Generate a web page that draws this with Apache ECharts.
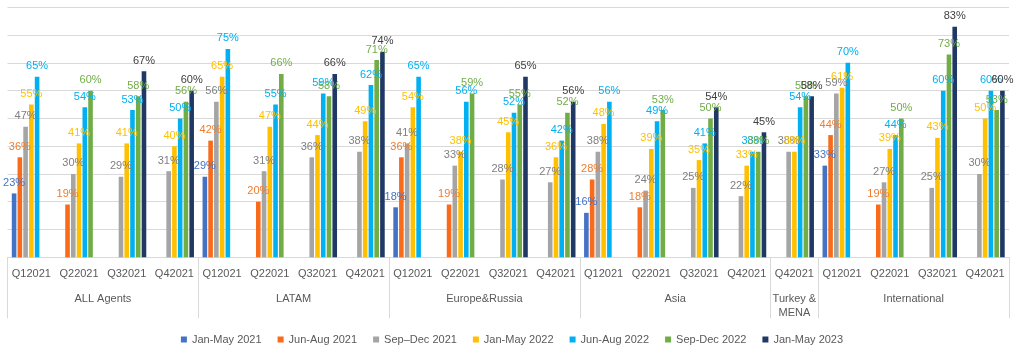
<!DOCTYPE html>
<html>
<head>
<meta charset="utf-8">
<script src="https://cdn.jsdelivr.net/npm/echarts@6/dist/echarts.min.js"></script>
<style>
html,body{margin:0;padding:0;background:#fff;}
#chart{width:1024px;height:354px;}
</style>
</head>
<body>
<div id="chart"></div>
<script>
// Quarter labels (first axis row)
const quarters = ['Q12021','Q22021','Q32021','Q42021','Q12021','Q22021','Q32021','Q42021','Q12021','Q22021','Q32021','Q42021','Q12021','Q22021','Q32021','Q42021','Q42021','Q12021','Q22021','Q32021','Q42021'];
// Group labels (second axis row) and number of quarters in each group
const groups = ['ALL Agents','LATAM','Europe&Russia','Asia','Turkey &\nMENA','International'];
const groupSizes = [4,4,4,4,1,4];

const seriesNames = ['Jan-May 2021','Jun-Aug 2021','Sep\u2013Dec 2021','Jan-May 2022','Jun-Aug 2022','Sep-Dec 2022','Jan-May 2023'];

const janMay2021 = [23,null,null,null, 29,null,null,null, 18,null,null,null, 16,null,null,null, null, 33,null,null,null];
const junAug2021 = [36,19,null,null, 42,20,null,null, 36,19,null,null, 28,18,null,null, null, 44,19,null,null];
const sepDec2021 = [47,30,29,31, 56,31,36,38, 41,33,28,27, 38,24,25,22, 38, 59,27,25,30];
const janMay2022 = [55,41,41,40, 65,47,44,49, 54,38,45,36, 48,39,35,33, 38, 61,39,43,50];
const junAug2022 = [65,54,53,50, 75,55,59,62, 65,56,52,42, 56,49,41,38, 54, 70,44,60,60];
const sepDec2022 = [null,60,58,56, null,66,58,71, null,59,55,52, null,53,50,38, 58, null,50,73,53];
const janMay2023 = [null,null,67,60, null,null,66,74, null,null,65,56, null,null,54,45, 58, null,null,83,60];

const seriesData = [janMay2021, junAug2021, sepDec2021, janMay2022, junAug2022, sepDec2022, janMay2023];
const barColors = ['#4472C4','#F96B1B','#A5A5A5','#FFC000','#00B0F0','#70AD47','#203864'];
const labelColors = ['#4472C4','#ED7D31','#7F7F7F','#FFC000','#00B0F0','#70AD47','#404040'];

// group boundaries and midpoints
const bounds = [0];
groupSizes.forEach(s => bounds.push(bounds[bounds.length-1] + s));
const mids = groupSizes.map((s,i) => bounds[i] + s/2);

const FONT = 'Liberation Sans, Arial, sans-serif';

const chart = echarts.init(document.getElementById('chart'));
chart.setOption({
  animation: false,
  textStyle: {fontFamily: FONT},
  grid: {left: 7.5, right: 15, top: 7.3, bottom: 96.7, containLabel: false},
  legend: {
    data: seriesNames,
    left: 'center',
    top: 329,
    icon: 'rect',
    itemWidth: 6,
    itemHeight: 6,
    itemGap: 16,
    textStyle: {fontSize: 11, color: '#595959', fontFamily: FONT}
  },
  xAxis: [
    {
      type: 'category',
      data: quarters,
      position: 'bottom',
      axisLine: {show: true, lineStyle: {color: '#D9D9D9', width: 1}},
      axisTick: {show: false},
      axisLabel: {color: '#595959', fontSize: 11, margin: 11, interval: 0, fontFamily: FONT}
    },
    {
      type: 'value',
      min: 0,
      max: quarters.length,
      position: 'bottom',
      splitLine: {show: false},
      axisLine: {show: false},
      axisTick: {show: true, customValues: bounds, length: 61, lineStyle: {color: '#D9D9D9', width: 1}},
      axisLabel: {
        show: true,
        customValues: mids,
        margin: 35,
        color: '#595959',
        fontSize: 11,
        lineHeight: 14,
        fontFamily: FONT,
        formatter: function (v) {
          const i = mids.findIndex(m => Math.abs(m - v) < 1e-6);
          return i >= 0 ? groups[i] : '';
        }
      }
    }
  ],
  yAxis: {
    type: 'value',
    min: 0,
    max: 90,
    interval: 10,
    axisLabel: {show: false},
    axisLine: {show: false},
    axisTick: {show: false},
    splitLine: {lineStyle: {color: '#D9D9D9', width: 1}}
  },
  series: seriesNames.map((name, i) => ({
    name: name,
    type: 'bar',
    xAxisIndex: 0,
    data: seriesData[i],
    barWidth: 4.6,
    barGap: '25%',
    itemStyle: {color: barColors[i]},
    label: {
      show: true,
      position: 'top',
      distance: 5,
      formatter: '{c}%',
      fontSize: 11,
      fontFamily: FONT,
      color: labelColors[i]
    }
  }))
});
</script>
</body>
</html>
